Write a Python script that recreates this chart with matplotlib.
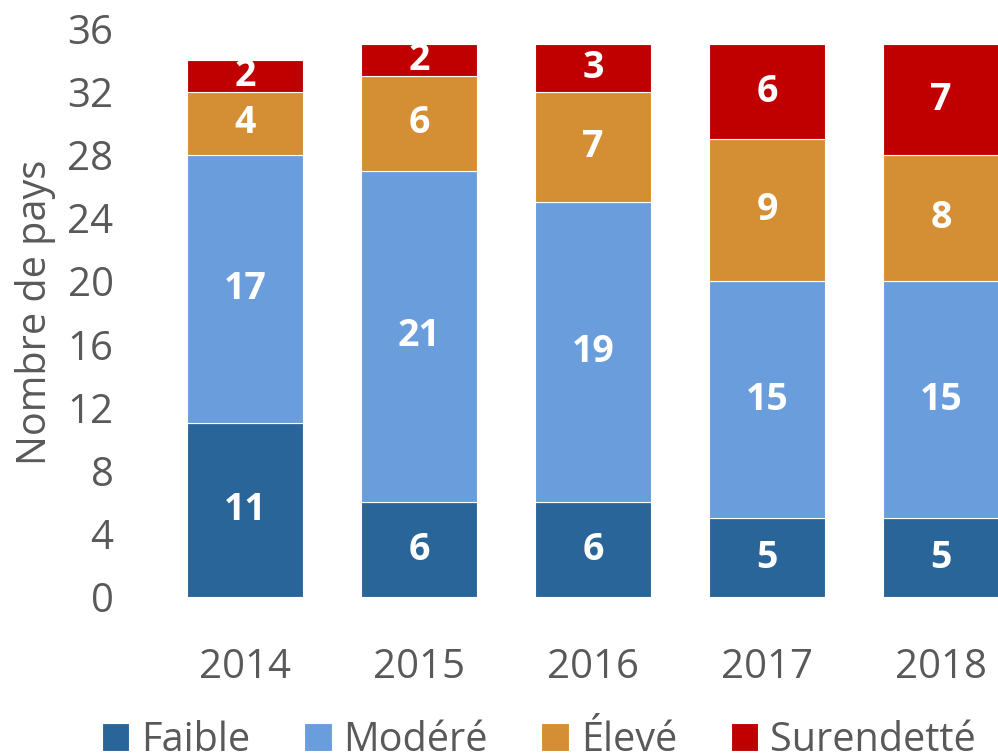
import numpy as np
import matplotlib
matplotlib.use("Agg")
import matplotlib.pyplot as plt

plt.rcParams["font.family"] = ["Open Sans", "DejaVu Sans"]

# Données
annees = ["2014", "2015", "2016", "2017", "2018"]
faible = [11, 6, 6, 5, 5]
modere = [17, 21, 19, 15, 15]
eleve = [4, 6, 7, 9, 8]
surendette = [2, 2, 3, 6, 7]

series = [("Faible", faible, "#2A6599"),
          ("Modéré", modere, "#6A9DDB"),
          ("Élevé", eleve, "#D48E33"),
          ("Surendetté", surendette, "#C00000")]

gris = "#595959"

fig = plt.figure(figsize=(9.98, 7.56), dpi=100)
ax = fig.add_axes([0.1583, 0.2103, 0.872, 0.752])

x = np.arange(len(annees))
base = np.zeros(len(annees))
for nom, vals, coul in series:
    vals = np.array(vals, dtype=float)
    ax.bar(x, vals, bottom=base, width=0.667, color=coul,
           edgecolor="white", linewidth=0.8, label=nom)
    for xi, b, v in zip(x, base, vals):
        ax.text(xi, b + v / 2, f"{int(v)}", ha="center", va="center",
                color="white", fontsize=27, fontweight="bold")
    base += vals

ax.set_xlim(-0.5, len(annees) - 0.5)
ax.set_ylim(0, 36)
ax.set_yticks(range(0, 37, 4))
ax.set_xticks(x)
ax.set_xticklabels(annees)
ax.tick_params(axis="both", length=0, labelsize=29, colors=gris)
ax.tick_params(axis="y", pad=32)
ax.tick_params(axis="x", pad=36)
for s in ax.spines.values():
    s.set_visible(False)

ax.set_ylabel("Nombre de pays", fontsize=28.5, color=gris, labelpad=8)

fig.legend(loc="center left", bbox_to_anchor=(0.086, 0.02), ncol=4,
           frameon=False, fontsize=28.5, labelcolor=gris,
           handlelength=0.7, handleheight=0.7, handletextpad=0.3,
           columnspacing=1.35, borderaxespad=0)

fig.savefig("out.png", dpi=100)
